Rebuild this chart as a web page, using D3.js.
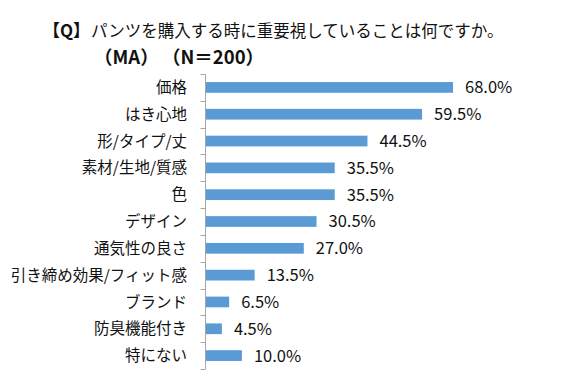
<!DOCTYPE html>
<html>
<head>
<meta charset="utf-8">
<script src="https://cdn.jsdelivr.net/npm/d3@7"></script>
<style>
  body { margin: 0; background: #fff; }
  svg { display: block; font-family: "Noto Sans CJK JP", "Noto Sans", sans-serif; }
</style>
</head>
<body>
<svg width="567" height="384"></svg>
<script>
var categories = ['価格', 'はき心地', '形/タイプ/丈', '素材/生地/質感', '色', 'デザイン',
	'通気性の良さ', '引き締め効果/フィット感', 'ブランド', '防臭機能付き', '特にない']
var values = [68.0, 59.5, 44.5, 35.5, 35.5, 30.5, 27.0, 13.5, 6.5, 4.5, 10.0]
var titleTag = '【Q】'
var title1 = 'パンツを購入する時に重要視していることは何ですか。'
var title2 = ['（MA）', '（N＝200）']

var svg = d3.select('svg'),
	axisX = 205.5,
	axisTop = 74,
	axisBottom = 369

var x = d3.scaleLinear().domain([0, 100]).range([axisX, axisX + 364])
var y = d3.scaleBand().domain(categories).range([axisTop, axisBottom]).paddingInner(0.6).paddingOuter(0.3)

// title
svg.append('text').attr('x', 43).attr('y', 37).attr('font-size', 17)
	.attr('font-weight', 'bold').attr('fill', '#111').text(titleTag)
svg.append('text').attr('x', 91).attr('y', 37).attr('font-size', 16.5)
	.attr('fill', '#111').text(title1)

svg.selectAll('text.t2').data(title2).enter().append('text')
	.attr('class', 't2')
	.attr('x', function(d, i) { return [94, 162][i] })
	.attr('y', 64)
	.attr('font-size', 18.5)
	.attr('font-weight', 'bold')
	.attr('fill', '#111')
	.text(function(d) { return d })

// bars
svg.selectAll('rect.bar').data(values).enter().append('rect')
	.attr('class', 'bar')
	.attr('x', x(0))
	.attr('y', function(d, i) { return y(categories[i]) })
	.attr('width', function(d) { return x(d) - x(0) })
	.attr('height', y.bandwidth())
	.attr('fill', '#5B9BD5')

// value labels
svg.selectAll('text.val').data(values).enter().append('text')
	.attr('class', 'val')
	.attr('x', function(d) { return x(d) + 12 })
	.attr('y', function(d, i) { return y(categories[i]) + y.bandwidth() / 2 })
	.attr('dy', '0.36em')
	.attr('font-size', 16.5)
	.attr('fill', '#111')
	.text(function(d) { return d.toFixed(1) + '%' })

// category axis, ticks sit between the bands
var axis = svg.append('g').attr('stroke', '#a6a6a6').attr('stroke-width', 1)
axis.append('line').attr('x1', axisX).attr('x2', axisX).attr('y1', axisTop).attr('y2', axisBottom)
d3.range(categories.length + 1).forEach(function(i) {
	var yy = Math.round(axisTop + i * (axisBottom - axisTop) / categories.length) + 0.5
	axis.append('line').attr('x1', axisX - 5).attr('x2', axisX).attr('y1', yy).attr('y2', yy)
})

svg.selectAll('text.cat').data(categories).enter().append('text')
	.attr('class', 'cat')
	.attr('x', 187)
	.attr('y', function(d) { return y(d) + y.bandwidth() / 2 })
	.attr('dy', '0.36em')
	.attr('text-anchor', 'end')
	.attr('font-size', 15.5)
	.attr('fill', '#111')
	.text(function(d) { return d })
</script>
</body>
</html>
